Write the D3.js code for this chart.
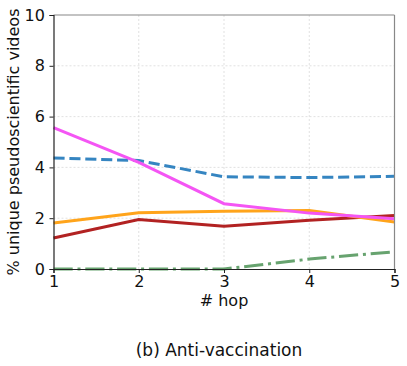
<!DOCTYPE html>
<html>
<head>
<meta charset="utf-8">
<script src="https://cdn.jsdelivr.net/npm/d3@7"></script>
<style>
  body { margin: 0; background: #fff; }
  svg { font-family: "DejaVu Sans", sans-serif; }
  .grid line { stroke: #d9d9d9; stroke-dasharray: 2,2; stroke-width: 0.8; }
</style>
</head>
<body>
<div id="chart"></div>
<script>
// data
const hops = [1, 2, 3, 4, 5];
const seriesPink = [5.57, 4.2, 2.57, 2.2, 1.98];
const seriesBlue = [4.37, 4.27, 3.63, 3.6, 3.65];
const seriesOrange = [1.81, 2.21, 2.27, 2.3, 1.85];
const seriesRed = [1.22, 1.95, 1.68, 1.92, 2.11];
const seriesGreen = [0, 0, 0, 0.39, 0.68];
const yTicks = [0, 2, 4, 6, 8, 10];

const FRAME_WIDTH = 407;
const FRAME_HEIGHT = 366;
const MARGINS = { left: 53.5, right: 12.5, top: 15, bottom: 97 };
const VIS_WIDTH = FRAME_WIDTH - MARGINS.left - MARGINS.right;
const VIS_HEIGHT = FRAME_HEIGHT - MARGINS.top - MARGINS.bottom;

const FRAME = d3.select("#chart")
    .append("svg")
    .attr("width", FRAME_WIDTH)
    .attr("height", FRAME_HEIGHT);

const X_SCALE = d3.scaleLinear().domain([1, 5]).range([0, VIS_WIDTH]);
const Y_SCALE = d3.scaleLinear().domain([0, 10]).range([VIS_HEIGHT, 0]);

const g = FRAME.append("g")
    .attr("transform", "translate(" + MARGINS.left + "," + MARGINS.top + ")");

// grid
g.append("g").attr("class", "grid")
    .selectAll("line").data(hops.slice(1, 4)).enter().append("line")
    .attr("x1", d => X_SCALE(d)).attr("x2", d => X_SCALE(d))
    .attr("y1", 0).attr("y2", VIS_HEIGHT);
g.append("g").attr("class", "grid")
    .selectAll("line").data(yTicks.slice(1, 5)).enter().append("line")
    .attr("x1", 0).attr("x2", VIS_WIDTH)
    .attr("y1", d => Y_SCALE(d)).attr("y2", d => Y_SCALE(d));

// lines
const line = d3.line()
    .x((d, i) => X_SCALE(hops[i]))
    .y(d => Y_SCALE(d));

const series = [
    { values: seriesGreen, color: "#67a36f", dash: "19.2,4.8,3,4.8" },
    { values: seriesRed, color: "#b22222", dash: null },
    { values: seriesOrange, color: "#ffa41b", dash: null },
    { values: seriesBlue, color: "#3585c1", dash: "11.1,4.8" },
    { values: seriesPink, color: "#f455f4", dash: null }
];

series.forEach(s => {
    g.append("path")
        .datum(s.values)
        .attr("d", line)
        .attr("fill", "none")
        .attr("stroke", s.color)
        .attr("stroke-width", 3)
        .attr("stroke-dasharray", s.dash);
});

// frame
g.append("line").attr("x1", 0).attr("x2", VIS_WIDTH).attr("y1", 0).attr("y2", 0)
    .attr("stroke", "#888").attr("stroke-width", 1.2);
g.append("line").attr("x1", VIS_WIDTH).attr("x2", VIS_WIDTH).attr("y1", 0).attr("y2", VIS_HEIGHT)
    .attr("stroke", "#888").attr("stroke-width", 1.2);

// axes
const xAxis = g.append("g")
    .attr("transform", "translate(0," + VIS_HEIGHT + ")")
    .call(d3.axisBottom(X_SCALE).tickValues(hops).tickFormat(d3.format("d")).tickSizeOuter(0).tickSize(4));
const yAxis = g.append("g")
    .call(d3.axisLeft(Y_SCALE).tickValues(yTicks).tickSizeOuter(0).tickSize(4));

[xAxis, yAxis].forEach(a => {
    a.selectAll("text").attr("font-size", "16px").attr("fill", "#111")
        .attr("font-family", "DejaVu Sans");
    a.select(".domain").attr("stroke", "#222").attr("stroke-width", 1.2);
    a.selectAll(".tick line").attr("stroke", "#222");
});
yAxis.selectAll("text").attr("dx", "-0.1em");

// labels
FRAME.append("text")
    .attr("x", MARGINS.left + VIS_WIDTH / 2)
    .attr("y", 306)
    .attr("text-anchor", "middle")
    .attr("font-size", "16px")
    .attr("fill", "#111")
    .text("# hop");

FRAME.append("text")
    .attr("transform", "translate(19," + (MARGINS.top + VIS_HEIGHT / 2) + ") rotate(-90)")
    .attr("text-anchor", "middle")
    .attr("font-size", "16px")
    .attr("fill", "#111")
    .text("% unique pseudoscientific videos");

FRAME.append("text")
    .attr("x", 219)
    .attr("y", 356)
    .attr("text-anchor", "middle")
    .attr("font-size", "17px")
    .attr("fill", "#111")
    .text("(b) Anti-vaccination");
</script>
</body>
</html>
